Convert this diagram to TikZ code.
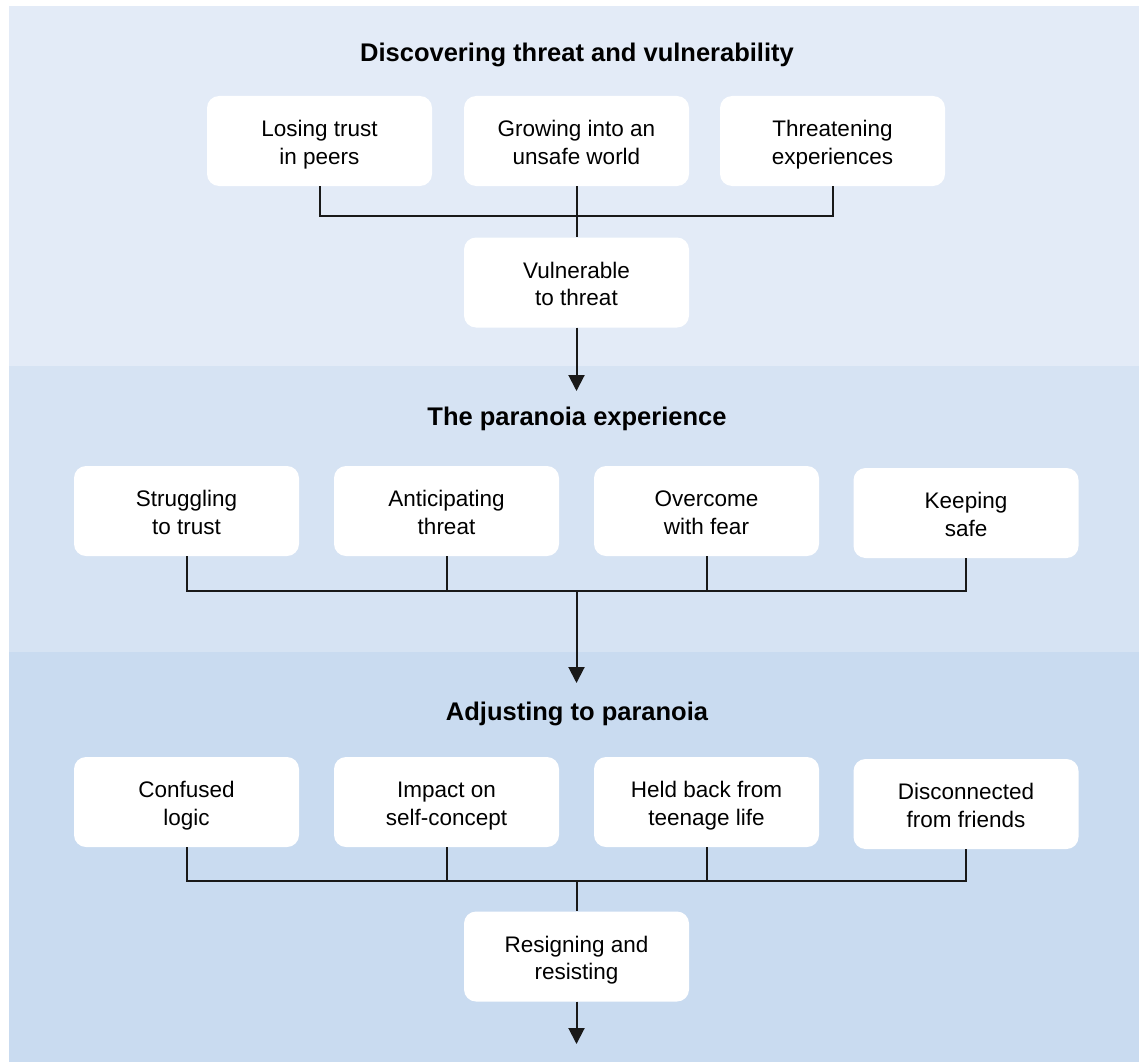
\documentclass[tikz,border=0pt]{standalone}
\usepackage{fontspec}
\setmainfont{Liberation Sans}
\usetikzlibrary{arrows.meta}
\definecolor{bandA}{RGB}{227,235,247}
\definecolor{bandB}{RGB}{214,227,243}
\definecolor{bandC}{RGB}{201,219,240}
\definecolor{ink}{RGB}{25,25,25}
% fixed extents around the last baseline, so every two-line card centres its text alike
\newcommand{\cardtop}{\rule{0pt}{60pt}}
\newcommand{\cardbot}{\rule[-14pt]{0pt}{14pt}}
\begin{document}
\begin{tikzpicture}[x=1pt,y=-1pt,
  card/.style={fill=white, rounded corners=12pt, minimum width=225pt, minimum height=90pt,
    align=center, inner sep=0pt, font=\fontsize{22.5}{27.5}\selectfont,
    execute at begin node=\cardtop, execute at end node=\cardbot},
  heading/.style={font=\fontsize{25.5}{30}\selectfont\bfseries},
  link/.style={draw=ink, line width=2pt},
  flow/.style={link, -{Triangle[length=16pt,width=16pt]}}]
\useasboundingbox (0,0) rectangle (1139,1062);
\fill[white] (0,0) rectangle (1139,1062);
% three stage bands
\fill[bandA] (9,6) rectangle (1139,366);
\fill[bandB] (9,366) rectangle (1139,652);
\fill[bandC] (9,652) rectangle (1139,1062);

% stage 1
\node[heading] (h1) at (577,55) {Discovering threat and vulnerability};
\node[card] (a1) at (319.5,141) {Losing trust\\in peers};
\node[card] (a2) at (576.5,141) {Growing into an\\unsafe world};
\node[card] (a3) at (832.5,141) {Threatening\\experiences};
\node[card] (v) at (576.5,282.5) {Vulnerable\\to threat};
\coordinate (m1) at (576.5,216);
\coordinate (t1) at (576.5,391);
\draw[link] (a1.south) |- (m1) -| (a3.south);
\draw[link] (a2.south) -- (v.north);
\draw[flow] (v.south) -- (t1);

% stage 2
\node[heading] (h2) at (577,419) {The paranoia experience};
\node[card] (b1) at (186.5,511) {Struggling\\to trust};
\node[card] (b2) at (446.5,511) {Anticipating\\threat};
\node[card] (b3) at (706.5,511) {Overcome\\with fear};
\node[card] (b4) at (966,513) {Keeping\\safe};
\coordinate (m2) at (576.5,591);
\coordinate (t2) at (576.5,683);
\draw[link] (b1.south) |- (m2) -| (b4.south);
\draw[link] (b2.south) -- (b2.south |- m2);
\draw[link] (b3.south) -- (b3.south |- m2);
\draw[flow] (m2) -- (t2);

% stage 3
\node[heading] (h3) at (577,714) {Adjusting to paranoia};
\node[card] (c1) at (186.5,802) {Confused\\logic};
\node[card] (c2) at (446.5,802) {Impact on\\self-concept};
\node[card] (c3) at (706.5,802) {Held back from\\teenage life};
\node[card] (c4) at (966,804) {Disconnected\\from friends};
\node[card] (r) at (576.5,956.5) {Resigning and\\resisting};
\coordinate (m3) at (576.5,881);
\coordinate (t3) at (576.5,1044);
\draw[link] (c1.south) |- (m3) -| (c4.south);
\draw[link] (c2.south) -- (c2.south |- m3);
\draw[link] (c3.south) -- (c3.south |- m3);
\draw[link] (m3) -- (r.north);
\draw[flow] (r.south) -- (t3);
\end{tikzpicture}
\end{document}
